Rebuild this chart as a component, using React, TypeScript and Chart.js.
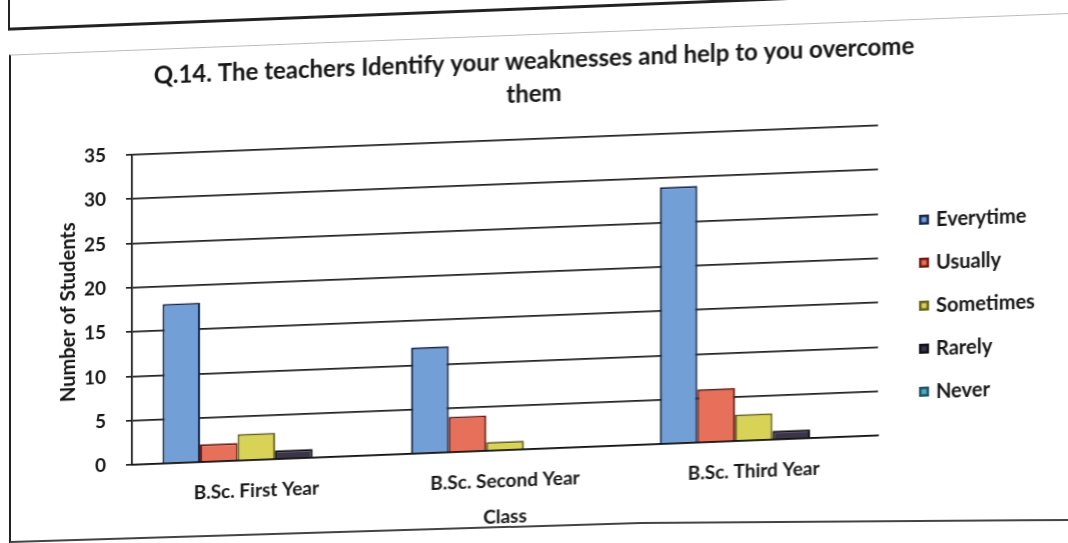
import React, { useEffect, useRef } from 'react';
import { Chart, registerables } from 'chart.js';

Chart.register(...registerables);

// ---- data ----
const categories = ['B.Sc. First Year', 'B.Sc. Second Year', 'B.Sc. Third Year'];
const seriesNames = ['Everytime', 'Usually', 'Sometimes', 'Rarely', 'Never'];
const everytime = [18, 12, 29];
const usually = [2, 4, 6];
const sometimes = [3, 1, 3];
const rarely = [1, 0, 1];
const never = [0, 0, 0];
const yTickValues = [0, 5, 10, 15, 20, 25, 30, 35];

const titleLines = ['Q.14. The teachers Identify your weaknesses and help to you overcome', 'them'];
const xAxisTitle = 'Class';
const yAxisTitle = 'Number of Students';

// ---- styles ----
const fills = ['#729FD6', '#E6705A', '#D8D257', '#3B3548', '#4BACC6'];
const borders = ['#16284F', '#701C12', '#67631A', '#121018', '#1E5566'];
const FONT = 'Lato, "Noto Sans", "DejaVu Sans", sans-serif';
const INK = '#161616';

const sideLegend = {
  id: 'sideLegend',
  afterDraw(chart: any) {
    const { ctx, chartArea } = chart;
    ctx.save();
    ctx.font = `bold 20px ${FONT}`;
    ctx.textBaseline = 'middle';
    ctx.textAlign = 'left';
    chart.data.datasets.forEach((ds: any, i: number) => {
      const y = chartArea.top + 96 + i * 43;
      const bx = chartArea.right + 41;
      ctx.fillStyle = ds.borderColor;
      ctx.fillRect(bx, y - 5, 10, 10);
      ctx.fillStyle = ds.backgroundColor;
      ctx.fillRect(bx + 2.5, y - 2.5, 5, 5);
      ctx.fillStyle = INK;
      ctx.fillText(ds.label, bx + 17, y + 1);
    });
    ctx.restore();
  },
};

export default function App() {
  const ref = useRef<HTMLCanvasElement | null>(null);

  useEffect(() => {
    if (!ref.current) return;
    const values = [everytime, usually, sometimes, rarely, never];
    const chart = new Chart(ref.current, {
      type: 'bar',
      data: {
        labels: categories,
        datasets: seriesNames.map((name, i) => ({
          label: name,
          data: values[i],
          backgroundColor: fills[i],
          borderColor: borders[i],
          borderWidth: 2,
          categoryPercentage: 0.755,
          barPercentage: 1,
        })),
      },
      options: {
        responsive: false,
        animation: false,
        layout: { padding: 0 },
        plugins: {
          legend: { display: false },
          tooltip: { enabled: false },
          title: {
            display: true,
            text: titleLines,
            color: INK,
            font: { family: FONT, size: 24, weight: 'bold', lineHeight: 1.375 },
            padding: { top: 44.5, bottom: 28.5 },
          },
        },
        scales: {
          x: {
            grid: { display: false, drawTicks: false },
            border: { display: true, color: '#111', width: 1.5 },
            ticks: { color: INK, font: { family: FONT, size: 19, weight: 'bold' }, padding: 19.5 },
            title: {
              display: true,
              text: xAxisTitle,
              color: INK,
              font: { family: FONT, size: 19, weight: 'bold' },
              padding: { top: 0, bottom: 16 },
            },
            afterFit: (s: any) => { s.height = 94; },
          },
          y: {
            min: 0,
            max: 35,
            afterBuildTicks: (s: any) => { s.ticks = yTickValues.map((v) => ({ value: v })); },
            grid: { color: '#222', lineWidth: 1.7, tickLength: 6, drawTicks: true },
            border: { display: true, color: '#111', width: 1.7 },
            ticks: { color: INK, font: { family: FONT, size: 19, weight: 'bold' }, padding: 20 },
            title: {
              display: true,
              text: yAxisTitle,
              color: INK,
              font: { family: FONT, size: 20, weight: 'bold' },
              padding: { top: 57, bottom: 0 },
            },
            afterFit: (s: any) => { s.width = 132; },
          },
          legendSpace: {
            type: 'linear',
            position: 'right',
            display: true,
            grid: { display: false, drawTicks: false },
            border: { display: false },
            ticks: { display: false },
            afterFit: (s: any) => { s.width = 190; },
          },
        },
      },
      plugins: [sideLegend],
    });
    return () => chart.destroy();
  }, []);

  return (
    <>
      <div
        style={{
          position: 'fixed',
          left: 0,
          top: 0,
          width: 1068,
          height: 543,
          background: '#fff',
          transform: 'skewY(-2.25deg)',
          transformOrigin: '534px 271.5px',
        }}
      >
        <div style={{ position: 'absolute', left: 8, top: -40, width: 1060, height: 47, borderLeft: '2px solid #222', borderBottom: '3px solid #222' }} />
        <div style={{ position: 'absolute', left: 9, top: 34, width: 1070, height: 560, borderLeft: '2px solid #222', borderTop: '1px solid #bbb' }} />
        <canvas ref={ref} width={1068} height={543} style={{ position: 'absolute', left: 0, top: 0, width: 1068, height: 543 }} />
      </div>
      <div style={{ position: 'fixed', left: 0, top: 0, width: 1068, height: 543, pointerEvents: 'none' }}>
        <div style={{ position: 'absolute', left: 10, top: 541, width: 631, height: 0, borderTop: '2px solid #444', transformOrigin: '0 0', transform: 'rotate(-1.73deg)' }} />
        <div style={{ position: 'absolute', left: 640, top: 522, width: 430, height: 0, borderTop: '2px solid #444', transformOrigin: '0 0', transform: 'rotate(-0.4deg)' }} />
      </div>
    </>
  );
}
